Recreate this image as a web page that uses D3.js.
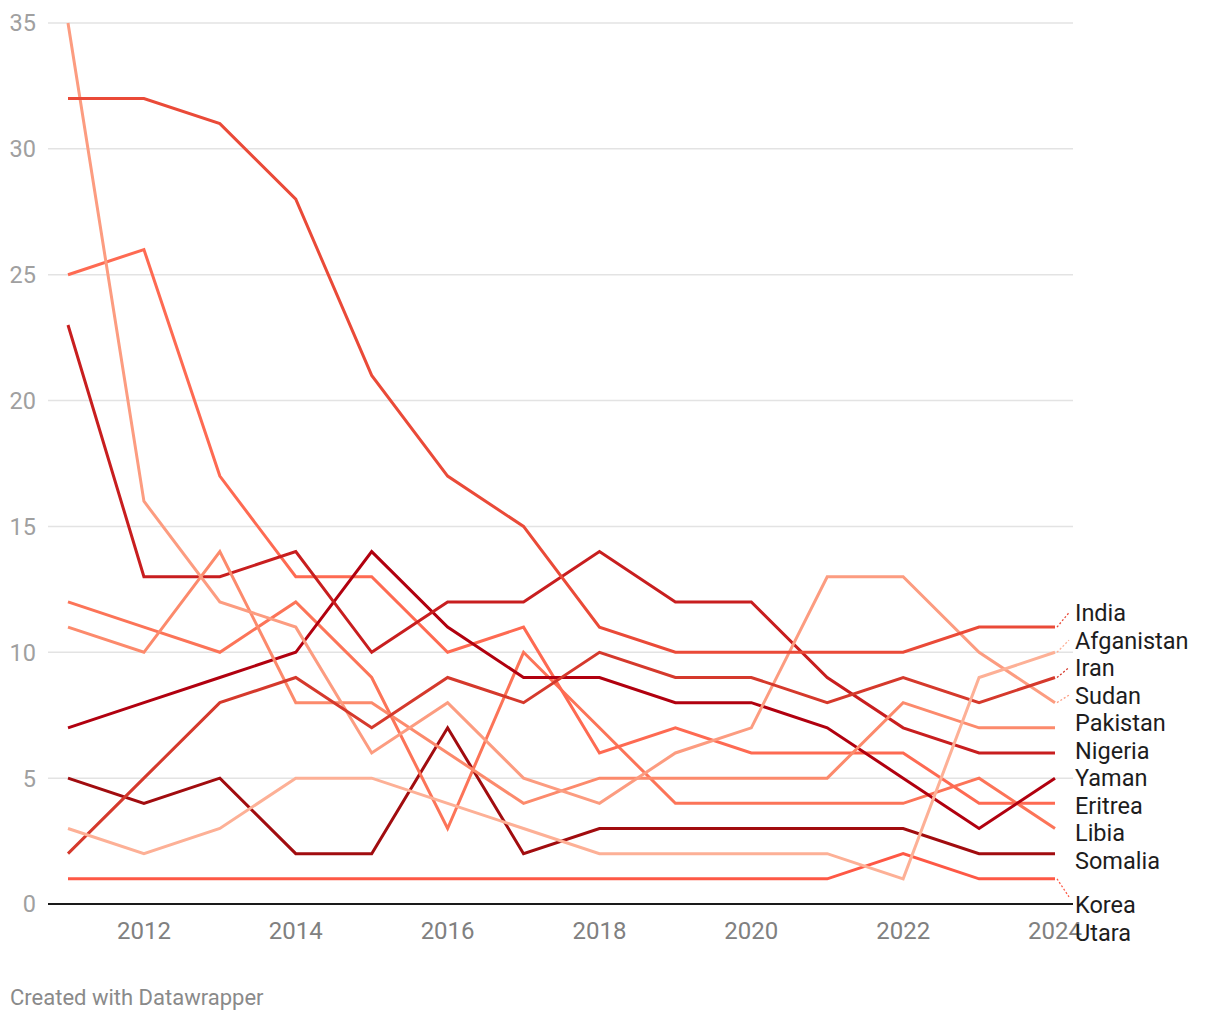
<!DOCTYPE html>
<html>
<head>
<meta charset="utf-8">
<script src="https://cdn.jsdelivr.net/npm/d3@7"></script>
<style>
  body { margin: 0; background: #fff; font-family: Roboto, "Noto Sans", sans-serif; }
  svg { display: block; }
</style>
</head>
<body>
<svg id="sv" width="1220" height="1020"></svg>
<script>
const years = [2011, 2012, 2013, 2014, 2015, 2016, 2017, 2018, 2019, 2020, 2021, 2022, 2023, 2024];
const yTicks = [0, 5, 10, 15, 20, 25, 30, 35];
const xTicks = [2012, 2014, 2016, 2018, 2020, 2022, 2024];

const countries = ["India", "Afganistan", "Iran", "Sudan", "Pakistan", "Nigeria", "Yaman", "Eritrea", "Libia", "Somalia", "Korea Utara"];
const colors = ["#ea4a38", "#fdb096", "#d5392c", "#fc9c80", "#fc8a6c", "#c81e1f", "#b1000f", "#fe6a52", "#fc7458", "#a10c0f", "#fe5845"];

const india = [32, 32, 31, 28, 21, 17, 15, 11, 10, 10, 10, 10, 11, 11];
const afganistan = [3, 2, 3, 5, 5, 4, 3, 2, 2, 2, 2, 1, 9, 10];
const iran = [2, 5, 8, 9, 7, 9, 8, 10, 9, 9, 8, 9, 8, 9];
const sudan = [35, 16, 12, 11, 6, 8, 5, 4, 6, 7, 13, 13, 10, 8];
const pakistan = [11, 10, 14, 8, 8, 6, 4, 5, 5, 5, 5, 8, 7, 7];
const nigeria = [23, 13, 13, 14, 10, 12, 12, 14, 12, 12, 9, 7, 6, 6];
const yaman = [7, 8, 9, 10, 14, 11, 9, 9, 8, 8, 7, 5, 3, 5];
const eritrea = [25, 26, 17, 13, 13, 10, 11, 6, 7, 6, 6, 6, 4, 4];
const libia = [12, 11, 10, 12, 9, 3, 10, 7, 4, 4, 4, 4, 5, 3];
const somalia = [5, 4, 5, 2, 2, 7, 2, 3, 3, 3, 3, 3, 2, 2];
const koreaUtara = [1, 1, 1, 1, 1, 1, 1, 1, 1, 1, 1, 2, 1, 1];

const values = [india, afganistan, iran, sudan, pakistan, nigeria, yaman, eritrea, libia, somalia, koreaUtara];
const series = countries.map((c, i) => ({ name: c, color: colors[i], vals: values[i] }));

const svg = d3.select("#sv");
const x = d3.scaleLinear().domain([2011, 2024]).range([68, 1055]);
const y = d3.scaleLinear().domain([0, 35]).range([904, 23]);
const gridL = 48, gridR = 1073;

// grid
svg.append("g").selectAll("line").data(yTicks.filter(d => d > 0)).enter().append("line")
  .attr("x1", gridL).attr("x2", gridR).attr("y1", d => y(d)).attr("y2", d => y(d))
  .attr("stroke", "#e3e3e3").attr("stroke-width", 1.5);

svg.append("g").selectAll("text").data(yTicks).enter().append("text")
  .attr("x", 36).attr("y", d => y(d)).attr("dy", ".36em").attr("text-anchor", "end")
  .attr("font-size", 23.5).attr("fill", "#a0a0a0").text(d => d);

svg.append("g").selectAll("text").data(xTicks).enter().append("text")
  .attr("x", d => x(d)).attr("y", 930).attr("dy", ".36em").attr("text-anchor", "middle")
  .attr("font-size", 24).attr("fill", "#808080").text(d => d);

// lines
const line = d3.line().x((d, i) => x(years[i])).y(d => y(d));
svg.append("g").selectAll("path").data(series.slice().reverse()).enter().append("path")
  .attr("d", d => line(d.vals)).attr("fill", "none")
  .attr("stroke", d => d.color).attr("stroke-width", 3);

// baseline
svg.append("line").attr("x1", gridL).attr("x2", gridR).attr("y1", y(0)).attr("y2", y(0))
  .attr("stroke", "#1a1a1a").attr("stroke-width", 2);

// labels, pushed apart until they stop overlapping
const lineH = 28;
const lbl = series.map(s => {
  const lines = s.name === "Korea Utara" ? ["Korea", "Utara"] : [s.name];
  const t = y(s.vals[s.vals.length - 1]);
  return { s, lines, target: t, c: t, h: lines.length > 1 ? 90 : 27.5 };
}).sort((a, b) => a.target - b.target);
for (let it = 0; it < 500; it++) {
  for (let i = 0; i < lbl.length - 1; i++) {
    const a = lbl[i], b = lbl[i + 1];
    const need = (a.h + b.h) / 2, gap = b.c - a.c;
    if (gap < need) { const d = (need - gap) / 2; a.c -= d; b.c += d; }
  }
}

const lg = svg.append("g");
lbl.forEach(l => {
  const top = l.c - (l.lines.length - 1) * lineH / 2;
  if (Math.abs(top - l.target) > 7) {
    lg.append("line").attr("x1", x(2024) + 2).attr("y1", l.target)
      .attr("x2", 1069).attr("y2", l.lines.length > 1 ? top - 8 : l.c)
      .attr("stroke", l.s.color).attr("stroke-width", 1.3).attr("stroke-dasharray", "2,2");
  }
  const t = lg.append("text").attr("font-size", 23.5).attr("fill", "#1d1d1d");
  l.lines.forEach((w, i) => t.append("tspan").attr("x", 1075).attr("y", top + i * lineH).attr("dy", ".36em").text(w));
});

svg.append("text").attr("x", 10).attr("y", 997).attr("dy", ".36em")
  .attr("font-size", 22).attr("fill", "#8a8a8a").text("Created with Datawrapper");
</script>
</body>
</html>
